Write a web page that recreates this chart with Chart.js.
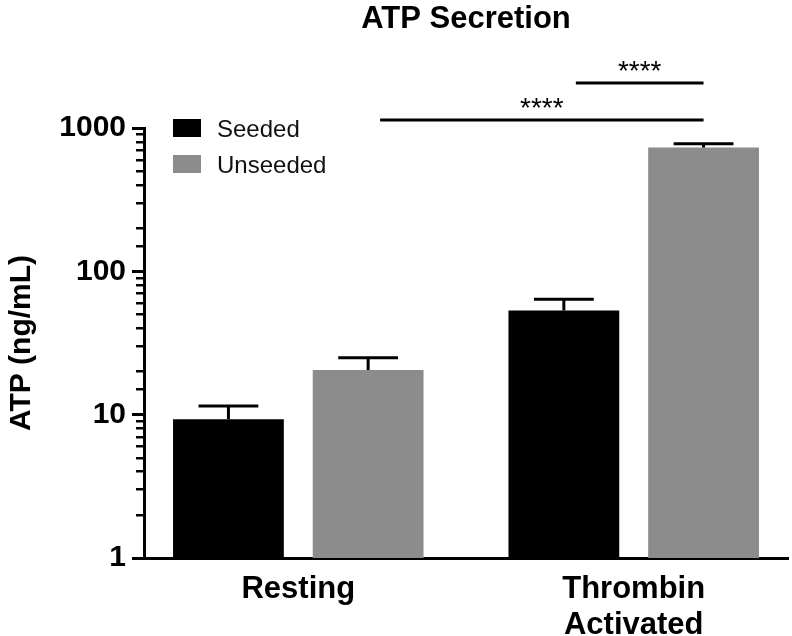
<!DOCTYPE html>
<html>
<head>
<meta charset="utf-8">
<script src="https://cdn.jsdelivr.net/npm/chart.js@4.4.1/dist/chart.umd.min.js"></script>
<style>
  html, body { margin: 0; padding: 0; background: #fff; }
</style>
</head>
<body>
<canvas id="chart" width="792" height="636"></canvas>
<script>
const groups = ["Resting", ["Thrombin", "Activated"]];
const seriesNames = ["Seeded", "Unseeded"];
const seeded = [9.3, 53.2];
const unseeded = [20.5, 730];
// top of each error bar (mean + SEM)
const seededErr = [11.5, 63.9];
const unseededErr = [25.0, 778];
const yLabels = [1, 10, 100, 1000];
// significance brackets: [dataset, group] -> [dataset, group], lowest first
const sigFrom = [[1, 0], [0, 1]];
const sigTo = [[1, 1], [1, 1]];
const sigText = ["****", "****"];

const FONT = "'Liberation Sans', Arial, Helvetica, sans-serif";
const colors = ["#000000", "#8c8c8c"];

const extras = {
  id: "extras",
  afterDatasetsDraw(chart) {
    const ctx = chart.ctx;
    const y = chart.scales.y;
    const area = chart.chartArea;
    ctx.save();
    ctx.strokeStyle = "#000";
    ctx.fillStyle = "#000";
    ctx.lineWidth = 3;

    // error bars, upper side only
    [seededErr, unseededErr].forEach((errs, d) => {
      chart.getDatasetMeta(d).data.forEach((bar, i) => {
        const top = y.getPixelForValue(errs[i]);
        const half = bar.width * 0.27;
        ctx.beginPath();
        ctx.moveTo(bar.x, bar.y);
        ctx.lineTo(bar.x, top);
        ctx.moveTo(bar.x - half, top);
        ctx.lineTo(bar.x + half, top);
        ctx.stroke();
      });
    });

    // significance lines
    ctx.font = "28px " + FONT;
    ctx.textAlign = "center";
    ctx.textBaseline = "alphabetic";
    sigFrom.forEach((from, k) => {
      const a = chart.getDatasetMeta(from[0]).data[from[1]];
      const b = chart.getDatasetMeta(sigTo[k][0]).data[sigTo[k][1]];
      const ly = area.top - 8 - 37 * k;
      const x1 = a.x + 12, x2 = b.x;
      ctx.beginPath();
      ctx.moveTo(x1, ly);
      ctx.lineTo(x2, ly);
      ctx.stroke();
      ctx.fillText(sigText[k], (x1 + x2) / 2, ly - 3);
    });

    // legend in the upper left of the plot
    ctx.font = "24px " + FONT;
    ctx.textAlign = "left";
    ctx.textBaseline = "middle";
    chart.data.datasets.forEach((ds, i) => {
      const bx = area.left + 29;
      const by = area.top - 9 + 36 * i;
      ctx.fillStyle = ds.backgroundColor;
      ctx.fillRect(bx, by, 28, 18);
      ctx.fillStyle = "#111";
      ctx.fillText(ds.label, bx + 44, by + 11);
    });
    ctx.restore();
  }
};

new Chart(document.getElementById("chart"), {
  type: "bar",
  data: {
    labels: groups,
    datasets: [
      { label: seriesNames[0], data: seeded, backgroundColor: colors[0] },
      { label: seriesNames[1], data: unseeded, backgroundColor: colors[1] }
    ]
  },
  options: {
    responsive: false,
    animation: false,
    categoryPercentage: 0.833,
    barPercentage: 0.793,
    layout: { padding: { left: 0, right: 4, top: 0, bottom: 0 } },
    plugins: {
      legend: { display: false },
      tooltip: { enabled: false },
      title: {
        display: true,
        text: "ATP Secretion",
        fullSize: false,
        color: "#000",
        font: { family: FONT, size: 31, weight: "bold", lineHeight: 1 },
        padding: { top: 4, bottom: 93 }
      }
    },
    scales: {
      x: {
        grid: { display: false },
        border: { color: "#000", width: 3 },
        ticks: {
          color: "#000",
          font: { family: FONT, size: 31, weight: "bold", lineHeight: 1.17 },
          padding: 5,
          maxRotation: 0,
          autoSkip: false
        },
        afterBuildTicks: s => { s._startValue = -0.46; s._valueRange = 1.92; },
        afterFit: s => { s.height = 78; }
      },
      y: {
        type: "logarithmic",
        min: 1,
        max: 1000,
        weight: 1,
        border: { color: "#000", width: 3 },
        grid: { drawOnChartArea: false, tickLength: 12, tickColor: "#000", lineWidth: 3 },
        ticks: {
          autoSkip: false,
          color: "#000",
          padding: 6,
          font: { family: FONT, size: 30, weight: "bold" },
          callback: v => yLabels.includes(v) ? String(v) : null
        },
        title: {
          display: true,
          text: "ATP (ng/mL)",
          color: "#000",
          font: { family: FONT, size: 30, weight: "bold", lineHeight: 1.2 },
          padding: { top: 4, bottom: 0 }
        },
        afterFit: s => { s.width = 144; }
      },
      yMinor: {
        type: "logarithmic",
        axis: "y",
        position: "left",
        min: 1,
        max: 1000,
        weight: 0,
        border: { display: false },
        grid: { drawOnChartArea: false, tickLength: 8, tickColor: "#000", lineWidth: 2.5 },
        ticks: { display: false },
        afterFit: s => { s.width = 0; }
      }
    }
  },
  plugins: [extras]
});
</script>
</body>
</html>
